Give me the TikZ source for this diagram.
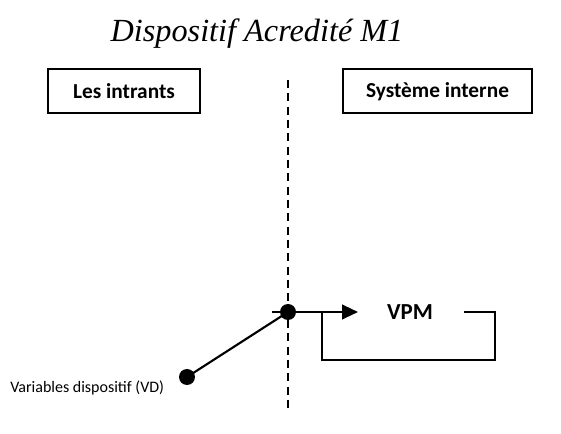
\documentclass[tikz,border=0pt]{standalone}
\usepackage{fontspec}
\setmainfont{Liberation Serif}
\newfontfamily\carfont{Carlito}
\usetikzlibrary{arrows.meta}
\begin{document}
\begin{tikzpicture}[x=0.75pt,y=-0.75pt,
  boxlbl/.style={draw,line width=1.5pt,minimum height=33pt,inner sep=0pt,font=\carfont\bfseries\fontsize{16}{19}\selectfont},
  conn/.style={line width=1.6pt},
  dotpt/.style={circle,fill=black,inner sep=0pt,minimum size=12pt},
  thin/.style={line width=1.2pt}]
\useasboundingbox (0,0) rectangle (561,434);
\node[font=\itshape\fontsize{24.2}{28}\selectfont] (title) at (257,34) {Dispositif Acredité M1};
\node[boxlbl,minimum width=114pt] (intr) at (124,91) {Les intrants};
\node[boxlbl,minimum width=141.75pt] (sys) at (437.5,91.5) {Système interne};
\coordinate (dtop) at (288,80);
\coordinate (dbot) at (288,410);
\draw[line width=1.2pt,dash pattern=on 6pt off 4pt] (dtop) -- (dbot);
\node[dotpt] (d1) at (288,312) {};
\node[dotpt] (d2) at (187,377) {};
\coordinate (hstart) at (272,312);
\coordinate (tip) at (358,312);
\draw[conn,-{Triangle[length=12pt,width=11pt]}] (hstart) -- (tip);
\draw[conn] (d2.center) -- (d1.center);
\node[font=\carfont\bfseries\fontsize{17.2}{20}\selectfont] (vpm) at (410,312) {VPM};
\coordinate (l1) at (322,312);
\coordinate (l2) at (322,360);
\coordinate (l3) at (495,360);
\coordinate (l4) at (495,312);
\coordinate (l5) at (464,312);
\draw[thin] (l1) -- (l2) -- (l3) -- (l4) -- (l5);
\node[font=\carfont\fontsize{12}{14}\selectfont,anchor=west,inner sep=0pt] (vd) at (10,388) {Variables dispositif (VD)};
\end{tikzpicture}
\end{document}
